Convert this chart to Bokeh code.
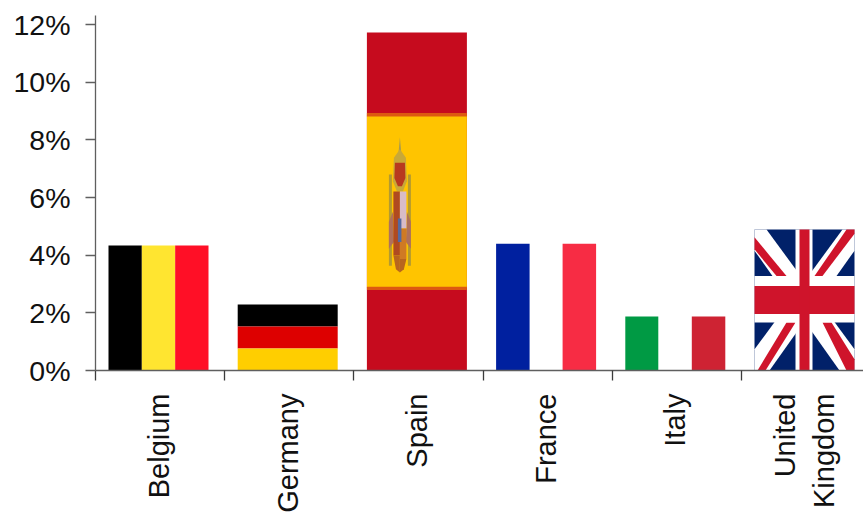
import math

from bokeh.embed import file_html
from bokeh.models import FixedTicker, PrintfTickFormatter, Range1d
from bokeh.plotting import figure
from bokeh.resources import INLINE

categories = ["Belgium", "Germany", "Spain", "France", "Italy", "United\nKingdom"]
values = [4.34, 2.29, 11.72, 4.40, 1.87, 4.89]
y_ticks = [0, 2, 4, 6, 8, 10, 12]

FONT = "Liberation Sans"
AXIS_COLOR = "#5f5f5f"
PX_PER_UNIT_Y = 28.83
PX_PER_CAT = 129.2
BAR_WIDTH = 100 / PX_PER_CAT
BAR_SHIFT = -1.6 / PX_PER_CAT

p = figure(
    width=863, height=512, frame_width=768, frame_height=370,
    output_backend="svg", toolbar_location=None,
    x_range=Range1d(0, 768 / PX_PER_CAT), y_range=Range1d(0, 370 / PX_PER_UNIT_Y),
    min_border_left=95, min_border_right=0, min_border_top=0, min_border_bottom=0,
)
p.grid.visible = False
p.outline_line_color = None
p.background_fill_color = "white"
p.border_fill_color = "white"

p.yaxis.ticker = FixedTicker(ticks=y_ticks)
p.yaxis.formatter = PrintfTickFormatter(format="%d%%")
p.yaxis.bounds = (0, 12.3)
p.yaxis.minor_tick_line_color = None
p.yaxis.major_tick_in = 0
p.yaxis.major_tick_out = 10
p.yaxis.major_tick_line_color = AXIS_COLOR
p.yaxis.major_tick_line_width = 1.3
p.yaxis.axis_line_color = AXIS_COLOR
p.yaxis.axis_line_width = 1.3
p.yaxis.major_label_standoff = 15
p.yaxis.major_label_text_font = FONT
p.yaxis.major_label_text_font_size = "28.5px"
p.yaxis.major_label_text_color = "#111111"

# Names sit at category centres; the visible tick marks fall on the boundaries between them
centres = [i + 0.5 + BAR_SHIFT for i in range(len(categories))]
boundaries = list(range(len(categories)))
p.xaxis.ticker = FixedTicker(ticks=centres, minor_ticks=boundaries)
p.xaxis.major_label_overrides = dict(zip(centres, categories))
p.xaxis.major_label_orientation = math.pi / 2
p.xaxis.major_label_standoff = 13
p.xaxis.major_label_text_font = FONT
p.xaxis.major_label_text_font_size = "29px"
p.xaxis.major_label_text_color = "#111111"
p.xaxis.major_tick_line_color = None
p.xaxis.major_tick_in = 0
p.xaxis.major_tick_out = 0
p.xaxis.minor_tick_in = 0
p.xaxis.minor_tick_out = 10
p.xaxis.minor_tick_line_color = "#3c3c3c"
p.xaxis.minor_tick_line_width = 1.3
p.xaxis.axis_line_color = AXIS_COLOR
p.xaxis.axis_line_width = 1.5


def region(i):
    """Return a mapper from flag fractions (fx from left, fy from top) to data space."""
    left = i + 0.5 + BAR_SHIFT - BAR_WIDTH / 2
    top = values[i]

    def to_data(fx, fy):
        return left + fx * BAR_WIDTH, top * (1 - fy)

    return to_data


def rect(i, fx0, fy0, fx1, fy1, color):
    m = region(i)
    x0, y0 = m(fx0, fy1)
    x1, y1 = m(fx1, fy0)
    p.quad(left=[x0], right=[x1], bottom=[y0], top=[y1], fill_color=color, line_color=None)


def poly(i, points, color):
    m = region(i)
    coords = [m(fx, fy) for fx, fy in points]
    p.patch([c[0] for c in coords], [c[1] for c in coords], fill_color=color, line_color=None)


# Belgium: vertical tricolour
for k, c in enumerate(["#000000", "#ffe530", "#ff0f26"]):
    rect(0, k / 3, 0, (k + 1) / 3, 1, c)

# Germany: horizontal tricolour
for k, c in enumerate(["#000000", "#dd0000", "#ffce00"]):
    rect(1, 0, k / 3, 1, (k + 1) / 3, c)

# Spain: red and gold bands with a small coat of arms
rect(2, 0, 0, 1, 1, "#c60b1e")
rect(2, 0, 0.245, 1, 0.755, "#ffc400")
rect(2, 0, 0.238, 1, 0.248, "#dd5a10")
rect(2, 0, 0.752, 1, 0.762, "#dd5a10")
poly(2, [(0.33, 0.31), (0.345, 0.36), (0.315, 0.36)], "#a89a50")
poly(2, [(0.27, 0.37), (0.33, 0.345), (0.39, 0.37), (0.40, 0.44), (0.36, 0.47), (0.30, 0.47), (0.26, 0.44)], "#c8a838")
poly(2, [(0.28, 0.385), (0.38, 0.385), (0.385, 0.43), (0.35, 0.455), (0.31, 0.455), (0.275, 0.43)], "#b8391f")
rect(2, 0.22, 0.42, 0.25, 0.69, "#b49a30")
rect(2, 0.41, 0.42, 0.44, 0.69, "#b49a30")
poly(2, [(0.22, 0.56), (0.26, 0.53), (0.27, 0.62), (0.22, 0.64)], "#b0705a")
poly(2, [(0.44, 0.56), (0.40, 0.53), (0.39, 0.62), (0.44, 0.64)], "#b0705a")
rect(2, 0.265, 0.47, 0.33, 0.66, "#b04a20")
rect(2, 0.33, 0.47, 0.395, 0.58, "#d8bcc8")
rect(2, 0.33, 0.58, 0.395, 0.67, "#cf7a24")
poly(2, [(0.265, 0.66), (0.33, 0.66), (0.33, 0.71), (0.29, 0.70)], "#b8651e")
poly(2, [(0.33, 0.67), (0.395, 0.67), (0.37, 0.70), (0.33, 0.71)], "#b8651e")
rect(2, 0.31, 0.55, 0.345, 0.62, "#5468a0")

# France: blue, white, red
rect(3, 0, 0, 0.335, 1, "#00209f")
rect(3, 0.665, 0, 1, 1, "#f72c44")

# Italy: green, white, red
rect(4, 0, 0, 0.33, 1, "#009a44")
rect(4, 0.665, 0, 1, 1, "#ce2333")

# United Kingdom: union flag
rect(5, 0, 0, 1, 1, "#012169")
poly(5, [(0, 0), (0.12, 0), (1, 0.85), (1, 1), (0.85, 1), (0, 0.15)], "white")
poly(5, [(1, 0), (0.88, 0), (0, 0.85), (0, 1), (0.15, 1), (1, 0.15)], "white")
poly(5, [(0, 0.055), (0, 0.14), (0.22, 0.33), (0.32, 0.33)], "#cf142b")
poly(5, [(0.68, 0.66), (0.77, 0.66), (1, 0.92), (1, 1), (0.92, 1)], "#cf142b")
poly(5, [(0.6, 0.33), (0.68, 0.33), (1, 0.03), (1, 0), (0.92, 0)], "#cf142b")
poly(5, [(0.03, 1), (0.11, 1), (0.41, 0.66), (0.32, 0.66)], "#cf142b")
rect(5, 0, 0.33, 1, 0.66, "white")
rect(5, 0.41, 0, 0.58, 1, "white")
rect(5, 0, 0.40, 1, 0.60, "#cf142b")
rect(5, 0.45, 0, 0.55, 1, "#cf142b")

open("out.html", "w").write(file_html(p, INLINE))
